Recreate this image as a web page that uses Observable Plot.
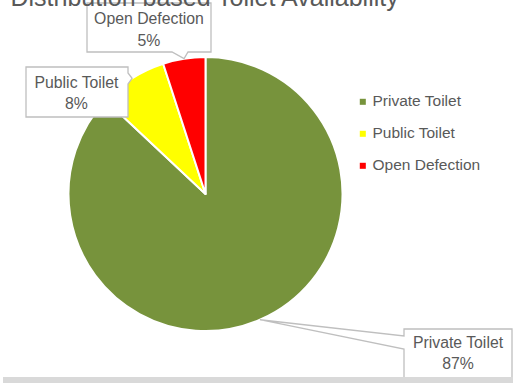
<!DOCTYPE html>
<html>
<head>
<meta charset="utf-8">
<script src="https://cdn.jsdelivr.net/npm/d3@7"></script>
<script src="https://cdn.jsdelivr.net/npm/@observablehq/plot@0.6"></script>
<style>
  html, body { margin: 0; padding: 0; background: #fff; }
  #chart svg { display: block; }
</style>
</head>
<body>
<div id="chart"></div>
<script>
// ---- data ----
const title = "Distribution based Toilet Availability";
const categories = ["Private Toilet", "Public Toilet", "Open Defection"];
const shares = [87, 8, 5];
const colors = ["#77933C", "#FFFF00", "#FF0000"];

// ---- layout (pixels) ----
const W = 513, H = 383;
const CX = 205.5, CY = 194, R = 137;
const FONT = "'Liberation Sans', Arial, sans-serif";
const TEXT = "#595959";
// callout boxes: [x1, y1, x2, y2], side of pointer, pointer base span, text centre
const callouts = {
  "Open Defection": {box: [87, 3, 211, 52], side: "bottom", span: [172, 188], tx: 148.5, ty: 8.5},
  "Public Toilet":  {box: [26, 67, 128, 117], side: "right", span: [73, 84], tx: 76, ty: 71.8},
  "Private Toilet": {box: [404, 329, 512, 395], side: "left", span: [336, 349], tx: 457.5, ty: 331.8}
};

const arcs = d3.pie().sort(null).value(d => d)(shares);
const slices = categories.map((c, i) => ({
  category: c, value: shares[i], color: colors[i],
  start: arcs[i].startAngle, end: arcs[i].endAngle,
  mid: (arcs[i].startAngle + arcs[i].endAngle) / 2
}));

function calloutPath(box, side, span, tip) {
  const [x1, y1, x2, y2] = box;
  const p = [[x1, y1]];
  if (side === "top") p.push([span[0], y1], tip, [span[1], y1]);
  p.push([x2, y1]);
  if (side === "right") p.push([x2, span[0]], tip, [x2, span[1]]);
  p.push([x2, y2]);
  if (side === "bottom") p.push([span[1], y2], tip, [span[0], y2]);
  p.push([x1, y2]);
  if (side === "left") p.push([x1, span[1]], tip, [x1, span[0]]);
  return "M" + p.map(q => q.join(",")).join("L") + "Z";
}

// custom pie + callout mark using Plot's x/y scales
function pieMark(index, scales) {
  const sx = scales && scales.x ? scales.x : (v => v);
  const sy = scales && scales.y ? scales.y : (v => v);
  const cx = sx(CX), cy = sy(CY), r = sx(CX + R) - sx(CX);
  const g = d3.create("svg:g");
  const arc = d3.arc().innerRadius(0).outerRadius(r);
  g.selectAll("path.slice").data(slices).join("path")
    .attr("class", "slice")
    .attr("transform", `translate(${cx},${cy})`)
    .attr("d", d => arc({startAngle: d.start, endAngle: d.end}))
    .attr("fill", d => d.color)
    .attr("stroke", "#fff")
    .attr("stroke-width", 2)
    .attr("stroke-linejoin", "round");
  g.selectAll("path.callout").data(slices).join("path")
    .attr("class", "callout")
    .attr("d", d => {
      const c = callouts[d.category];
      const tip = [cx + r * Math.sin(d.mid), cy - r * Math.cos(d.mid)];
      const box = [sx(c.box[0]), sy(c.box[1]), sx(c.box[2]), sy(c.box[3])];
      const span = c.side === "left" || c.side === "right" ? c.span.map(sy) : c.span.map(sx);
      return calloutPath(box, c.side, span, tip);
    })
    .attr("fill", "#fff")
    .attr("stroke", "#bfbfbf")
    .attr("stroke-width", 1.3);
  return g.node();
}

function bandMark() {
  const g = d3.create("svg:g");
  g.append("rect").attr("x", 3).attr("y", 377).attr("width", W - 3).attr("height", 6)
    .attr("fill", "#d9d9d9");
  return g.node();
}

const labelRows = slices.map(d => {
  const c = callouts[d.category];
  return {text: `${d.category}\n${d.value}%`, x: c.tx, y: c.ty};
});

const legendRows = slices.map((d, i) => ({category: d.category, color: d.color, y: 101 + i * 32}));

const chart = Plot.plot({
  width: W,
  height: H,
  margin: 0,
  x: {domain: [0, W], range: [0, W], axis: null},
  y: {domain: [0, H], range: [0, H], axis: null},
  style: {fontFamily: FONT, background: "#fff", overflow: "hidden"},
  marks: [
    pieMark,
    Plot.text(labelRows, {
      x: "x", y: "y", text: "text", lineAnchor: "top", textAnchor: "middle",
      lineHeight: 1.36, fontSize: 15.8, fill: TEXT
    }),
    Plot.dot(legendRows, {
      x: () => 362.3, y: d => d.y + 0.3, symbol: "square", r: 3.4, fill: "color", stroke: null
    }),
    Plot.text(legendRows, {
      x: () => 372, y: "y", text: "category", textAnchor: "start", lineAnchor: "middle",
      fontSize: 15.5, fill: TEXT
    }),
    Plot.text([title], {
      x: () => 10, y: () => -3, text: d => d, textAnchor: "start", lineAnchor: "middle",
      fontSize: 25, fill: TEXT
    }),
    bandMark
  ]
});
document.getElementById("chart").appendChild(chart);
</script>
</body>
</html>
